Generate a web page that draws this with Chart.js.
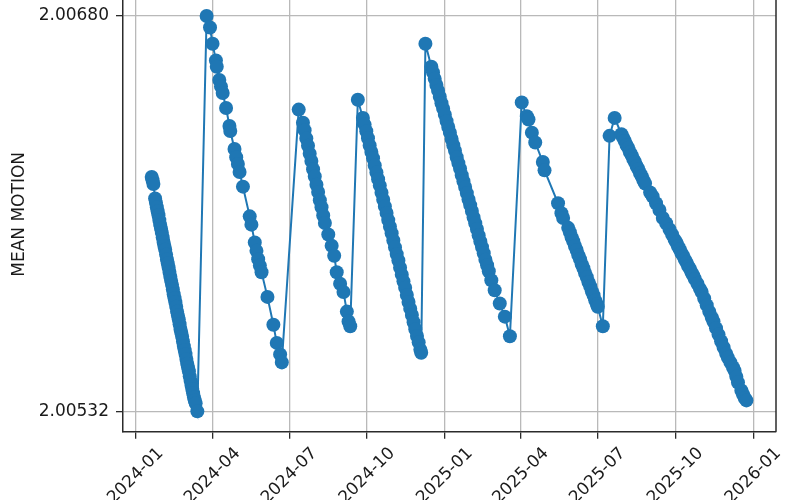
<!DOCTYPE html>
<html>
<head>
<meta charset="utf-8">
<script src="https://cdn.jsdelivr.net/npm/chart.js@4"></script>
<style>
  html, body { margin: 0; padding: 0; background: #fff; overflow: hidden; }
  #wrap { position: relative; width: 800px; height: 500px; overflow: hidden; }
  #chart { position: absolute; left: 0; top: -10px; }
</style>
</head>
<body>
<div id="wrap"><canvas id="chart" width="800" height="510"></canvas></div>
<script>
// ── DATA ───────────────────────────────────────────────────────────────
const obsDates = [
  // decay 1
  '2024-01-20','2024-01-21','2024-01-22','2024-01-24','2024-01-25','2024-01-26','2024-01-27',
  '2024-01-28','2024-01-29','2024-01-30','2024-01-31','2024-02-01','2024-02-02','2024-02-03',
  '2024-02-04','2024-02-05','2024-02-06','2024-02-07','2024-02-08','2024-02-09','2024-02-10',
  '2024-02-11','2024-02-12','2024-02-13','2024-02-14','2024-02-15','2024-02-16','2024-02-17',
  '2024-02-18','2024-02-19','2024-02-20','2024-02-21','2024-02-22','2024-02-23','2024-02-24',
  '2024-02-25','2024-02-26','2024-02-27','2024-02-28','2024-02-29','2024-03-01','2024-03-02',
  '2024-03-03','2024-03-04','2024-03-05','2024-03-06','2024-03-07','2024-03-08','2024-03-09',
  '2024-03-10','2024-03-11','2024-03-12','2024-03-14',
  // decay 2
  '2024-03-25','2024-03-29','2024-04-01','2024-04-05','2024-04-06','2024-04-09','2024-04-11',
  '2024-04-13','2024-04-17','2024-04-21','2024-04-22','2024-04-27','2024-04-29','2024-05-01',
  '2024-05-03','2024-05-07','2024-05-15','2024-05-17','2024-05-21','2024-05-23','2024-05-25',
  '2024-05-27','2024-05-29','2024-06-05','2024-06-12','2024-06-16','2024-06-20','2024-06-22',
  // decay 3
  '2024-07-12','2024-07-17','2024-07-19','2024-07-21','2024-07-23','2024-07-25','2024-07-27',
  '2024-07-29','2024-07-31','2024-08-02','2024-08-04','2024-08-06','2024-08-08','2024-08-10',
  '2024-08-12','2024-08-16','2024-08-20','2024-08-23','2024-08-26','2024-08-30','2024-09-03',
  '2024-09-07','2024-09-09','2024-09-11',
  // decay 4
  '2024-09-20','2024-09-26','2024-09-28','2024-09-30','2024-10-02','2024-10-04','2024-10-06',
  '2024-10-08','2024-10-10','2024-10-12','2024-10-14','2024-10-16','2024-10-18','2024-10-20',
  '2024-10-22','2024-10-24','2024-10-26','2024-10-28','2024-10-30','2024-11-01','2024-11-03',
  '2024-11-05','2024-11-07','2024-11-09','2024-11-11','2024-11-13','2024-11-15','2024-11-17',
  '2024-11-19','2024-11-21','2024-11-23','2024-11-25','2024-11-27','2024-11-29','2024-12-01',
  '2024-12-03','2024-12-04',
  // decay 5
  '2024-12-09','2024-12-16','2024-12-18','2024-12-20','2024-12-22','2024-12-24','2024-12-26',
  '2024-12-28','2024-12-30','2025-01-01','2025-01-03','2025-01-05','2025-01-07','2025-01-09',
  '2025-01-11','2025-01-13','2025-01-15','2025-01-17','2025-01-19','2025-01-21','2025-01-23',
  '2025-01-25','2025-01-27','2025-01-29','2025-01-31','2025-02-02','2025-02-04','2025-02-06',
  '2025-02-08','2025-02-10','2025-02-12','2025-02-14','2025-02-16','2025-02-18','2025-02-20',
  '2025-02-22','2025-02-25','2025-03-01','2025-03-07','2025-03-13','2025-03-19',
  // decay 6
  '2025-04-02','2025-04-08','2025-04-10','2025-04-14','2025-04-18','2025-04-27','2025-04-29',
  '2025-05-15','2025-05-19','2025-05-21','2025-05-27','2025-05-29','2025-05-31','2025-06-02',
  '2025-06-04','2025-06-06','2025-06-08','2025-06-10','2025-06-12','2025-06-14','2025-06-16',
  '2025-06-18','2025-06-20','2025-06-22','2025-06-24','2025-06-26','2025-06-28','2025-06-30',
  '2025-07-01','2025-07-07',
  // decay 7
  '2025-07-15','2025-07-21','2025-07-29','2025-07-31','2025-08-02','2025-08-04','2025-08-06',
  '2025-08-08','2025-08-10','2025-08-12','2025-08-14','2025-08-16','2025-08-18','2025-08-20',
  '2025-08-22','2025-08-24','2025-08-26','2025-09-01','2025-09-04','2025-09-08','2025-09-12',
  '2025-09-16','2025-09-20','2025-09-24','2025-09-27','2025-09-30','2025-10-02','2025-10-04',
  '2025-10-06','2025-10-08','2025-10-10','2025-10-12','2025-10-14','2025-10-16','2025-10-18',
  '2025-10-20','2025-10-22','2025-10-24','2025-10-27','2025-10-30','2025-11-01','2025-11-04',
  '2025-11-07','2025-11-10','2025-11-13','2025-11-15','2025-11-18','2025-11-21','2025-11-24',
  '2025-11-27','2025-11-30','2025-12-02','2025-12-05','2025-12-08','2025-12-10','2025-12-12',
  '2025-12-14','2025-12-18','2025-12-20','2025-12-22','2025-12-24'
];

const meanMotion = [
  // decay 1
  2.006198, 2.006186, 2.006172, 2.006118, 2.006102, 2.006085, 2.006070,
  2.006055, 2.006037, 2.006020, 2.006005, 2.005990, 2.005972, 2.005955,
  2.005940, 2.005926, 2.005908, 2.005890, 2.005875, 2.005860, 2.005843,
  2.005825, 2.005810, 2.005795, 2.005778, 2.005760, 2.005745, 2.005730,
  2.005713, 2.005695, 2.005680, 2.005666, 2.005648, 2.005630, 2.005616,
  2.005601, 2.005583, 2.005566, 2.005551, 2.005536, 2.005518, 2.005500,
  2.005486, 2.005472, 2.005453, 2.005436, 2.005421, 2.005406, 2.005390,
  2.005374, 2.005363, 2.005352, 2.005322,
  // decay 2
  2.006800, 2.006757, 2.006696, 2.006634, 2.006610, 2.006561, 2.006536,
  2.006512, 2.006456, 2.006389, 2.006370, 2.006303, 2.006272, 2.006247,
  2.006217, 2.006162, 2.006051, 2.006020, 2.005953, 2.005922, 2.005891,
  2.005867, 2.005842, 2.005750, 2.005646, 2.005578, 2.005535, 2.005505,
  // decay 3
  2.006450, 2.006401, 2.006373, 2.006342, 2.006315, 2.006285, 2.006258,
  2.006227, 2.006200, 2.006169, 2.006142, 2.006111, 2.006085, 2.006054,
  2.006026, 2.005983, 2.005941, 2.005904, 2.005842, 2.005799, 2.005768,
  2.005695, 2.005658, 2.005640,
  // decay 4
  2.006487, 2.006419, 2.006394, 2.006369, 2.006343, 2.006316, 2.006292,
  2.006268, 2.006241, 2.006215, 2.006190, 2.006166, 2.006139, 2.006113,
  2.006088, 2.006064, 2.006037, 2.006012, 2.005988, 2.005961, 2.005935,
  2.005910, 2.005886, 2.005859, 2.005833, 2.005808, 2.005784, 2.005757,
  2.005731, 2.005706, 2.005682, 2.005655, 2.005629, 2.005604, 2.005580,
  2.005553, 2.005541,
  // decay 5
  2.006696, 2.006610, 2.006589, 2.006565, 2.006542, 2.006521, 2.006498,
  2.006474, 2.006453, 2.006431, 2.006407, 2.006385, 2.006364, 2.006340,
  2.006317, 2.006296, 2.006272, 2.006250, 2.006229, 2.006205, 2.006182,
  2.006161, 2.006138, 2.006114, 2.006093, 2.006071, 2.006047, 2.006025,
  2.006004, 2.005980, 2.005957, 2.005936, 2.005913, 2.005889, 2.005868,
  2.005846, 2.005812, 2.005775, 2.005725, 2.005676, 2.005603,
  // decay 6
  2.006477, 2.006425, 2.006413, 2.006364, 2.006327, 2.006254, 2.006223,
  2.006100, 2.006063, 2.006045, 2.006008, 2.005992, 2.005973, 2.005958,
  2.005940, 2.005925, 2.005906, 2.005891, 2.005872, 2.005857, 2.005839,
  2.005824, 2.005805, 2.005790, 2.005771, 2.005756, 2.005737, 2.005722,
  2.005713, 2.005640,
  // decay 7
  2.006352, 2.006419, 2.006358, 2.006345, 2.006333, 2.006318, 2.006307,
  2.006291, 2.006280, 2.006265, 2.006254, 2.006239, 2.006228, 2.006212,
  2.006201, 2.006186, 2.006174, 2.006140, 2.006125, 2.006100, 2.006075,
  2.006045, 2.006025, 2.006002, 2.005983, 2.005964, 2.005953, 2.005939,
  2.005928, 2.005914, 2.005904, 2.005890, 2.005879, 2.005865, 2.005855,
  2.005841, 2.005830, 2.005817, 2.005799, 2.005780, 2.005768, 2.005744,
  2.005719, 2.005695, 2.005673, 2.005658, 2.005633, 2.005609, 2.005584,
  2.005561, 2.005538, 2.005523, 2.005505, 2.005487, 2.005474, 2.005452,
  2.005430, 2.005400, 2.005385, 2.005372, 2.005363
];

const xTickDates = ['2024-01-01','2024-04-01','2024-07-01','2024-10-01',
                    '2025-01-01','2025-04-01','2025-07-01','2025-10-01','2026-01-01'];
const xTickLabels = ['2024-01','2024-04','2024-07','2024-10',
                     '2025-01','2025-04','2025-07','2025-10','2026-01'];
const yTicks = [2.00532, 2.00680];

const xRange = ['2023-12-17', '2026-01-28'];
const yRange = [2.005246, 2.006871];

// ── STYLE ──────────────────────────────────────────────────────────────
const BLUE    = '#1f77b4';
const GRID    = '#b9b9b9';
const SPINE   = '#2b2b2b';
const TEXT    = '#1a1a1a';
const FONT    = "'DejaVu Sans', sans-serif";
const FSIZE   = 17;
const TICKLEN = 7;

// ── PLUGINS ────────────────────────────────────────────────────────────
// matplotlib-like right spine + centred 45° date labels
const mplDecor = {
  id: 'mplDecor',
  afterDraw(chart) {
    const { ctx, chartArea: a, scales } = chart;
    ctx.save();
    ctx.strokeStyle = SPINE;
    ctx.lineWidth = 1.5;
    ctx.beginPath();
    ctx.moveTo(a.right, a.top);
    ctx.lineTo(a.right, a.bottom);
    ctx.stroke();

    ctx.font = `${FSIZE}px ${FONT}`;
    ctx.fillStyle = TEXT;
    ctx.textAlign = 'center';
    ctx.textBaseline = 'middle';
    const y0 = a.bottom + TICKLEN + 5;
    const h  = FSIZE * 1.16;
    xTickDates.forEach((d, i) => {
      const px = scales.x.getPixelForValue(Date.parse(d));
      const w  = ctx.measureText(xTickLabels[i]).width;
      const bh = (w + h) * Math.SQRT1_2;
      ctx.save();
      ctx.translate(px, y0 + bh / 2);
      ctx.rotate(-Math.PI / 4);
      ctx.fillText(xTickLabels[i], 0, 0);
      ctx.restore();
    });
    ctx.restore();
  }
};

// ── CHART ──────────────────────────────────────────────────────────────
const points = obsDates.map((d, i) => ({ x: Date.parse(d), y: meanMotion[i] }));

new Chart(document.getElementById('chart'), {
  type: 'line',
  data: {
    datasets: [{
      data: points,
      borderColor: BLUE,
      borderWidth: 2,
      backgroundColor: BLUE,
      pointBackgroundColor: BLUE,
      pointBorderWidth: 0,
      pointRadius: 7,
      tension: 0,
      fill: false
    }]
  },
  options: {
    responsive: false,
    animation: false,
    layout: { padding: { left: 0, right: 24, top: 0, bottom: 0 } },
    plugins: { legend: { display: false }, tooltip: { enabled: false } },
    scales: {
      x: {
        type: 'linear',
        min: Date.parse(xRange[0]),
        max: Date.parse(xRange[1]),
        afterBuildTicks: s => { s.ticks = xTickDates.map(d => ({ value: Date.parse(d) })); },
        afterFit: s => { s.height = 68.3; s.paddingLeft = 0; s.paddingRight = 0; },
        ticks: { display: false },
        grid: { color: GRID, lineWidth: 1.3, tickLength: TICKLEN, tickColor: SPINE, tickWidth: 1.3 },
        border: { color: SPINE, width: 1.5 }
      },
      y: {
        type: 'linear',
        min: yRange[0],
        max: yRange[1],
        afterBuildTicks: s => { s.ticks = yTicks.map(v => ({ value: v })); },
        afterFit: s => { s.width = 123; s.paddingTop = 0; s.paddingBottom = 0; },
        ticks: {
          color: TEXT,
          padding: 7,
          font: { family: FONT, size: FSIZE },
          callback: v => Number(v).toFixed(5)
        },
        grid: { color: GRID, lineWidth: 1.3, tickLength: TICKLEN, tickColor: SPINE, tickWidth: 1.3 },
        border: { color: SPINE, width: 1.5 },
        title: {
          display: true,
          text: 'MEAN MOTION',
          color: TEXT,
          font: { family: FONT, size: 17 },
          padding: { top: 9, bottom: 0 }
        }
      }
    }
  },
  plugins: [mplDecor]
});
</script>
</body>
</html>
